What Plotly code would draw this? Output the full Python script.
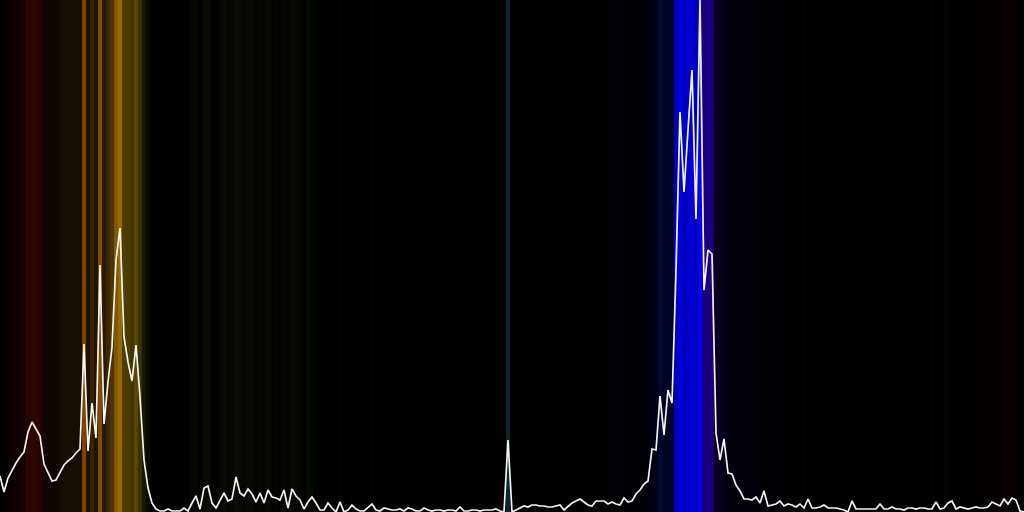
import plotly.graph_objects as go

line_values = [
    36,20,34,42,49,55,60,80,90,83,76,48,39,31,32,39,47,51,54,59,63,
    168,61,109,74,247,88,130,165,252,284,175,150,131,167,115,52,24,9,3,1,1,3,1,1,1,4,1,9,16,3,24,26,9,4,12,19,11,13,35,19,16,23,18,10,
    19,9,22,15,14,12,22,4,23,16,12,3,10,15,9,2,2,9,4,0,10,0,2,7,3,1,1,5,8,2,1,4,3,2,2,3,
    1,4,3,1,1,4,2,1,2,2,1,2,2,1,5,1,1,2,2,1,2,2,2,3,1,0,
    72,0,2,
    4,6,5,7,7,6,6,5,5,6,7,2,6,9,11,13,10,7,6,11,11,11,8,10,8,7,14,10,11,18,22,28,31,
    63,62,116,77,122,109,242,400,320,382,442,293,512,222,262,258,79,52,73,39,38,27,21,13,13,12,15,9,
    21,6,7,8,11,6,8,7,5,8,4,13,4,4,5,7,4,4,4,3,2,0,
    11,3,3,3,3,3,3,8,3,3,5,3,3,2,4,4,3,4,4,3,3,10,3,4,9,11,3,5,4,3,4,5,4,4,5,10,8,6,13,8,14,12,1,0,
]
bins = list(range(len(line_values)))

band_colors = [
    "#000000","#030000","#080000","#0b0100","#0e0100","#100200","#160300","#280500","#2e0500","#2a0500","#260500",
    "#120702","#0e0702","#0c0702","#0d0702","#110902","#180d02","#1a0e02","#1a0e02","#1a0e02","#1a0e02",
    "#7a4500","#1e1100","#3a2200","#221300","#7e4c00","#281900","#3c2700","#4d3500","#7e5800","#976a00",
    "#4f3d00","#4c3b00","#423500","#574700","#3a3100","#181603","#0c0b02","#010100","#000000",
    "#000000","#000000","#000000","#000000","#000000","#000000","#010100","#000000",
    "#070701","#070701","#020200","#0a0a01","#0a0a01","#030300","#020200","#060601","#090901","#060601","#060601",
    "#0d0d01","#080801","#070701","#080901","#070801","#030300","#060701","#020301","#080a01","#020401","#030501",
    "#020301","#060a01","#020301","#060a02","#050902","#020502","#010301","#050a03","#040802","#010201",
    "#000100","#000100","#010201","#000100","#000000","#010201","#000000","#000000","#010201","#000000",
    "#000000","#000000","#000100","#010201","#000000","#000000","#000000","#000000","#000000","#000000","#000000",
    "#000000","#000000","#000000","#000000","#000000","#000000","#000000","#000000","#000000","#000000",
    "#000000","#000000","#000000","#000000","#000101","#000000","#000000","#000000","#000000","#000000",
    "#000000","#000000","#000000","#000000","#000000","#000000",
    "#082a28","#000000","#000000",
    "#000001","#000001","#000001","#000102","#000102","#000001","#000001","#000001","#000001","#000001","#000102",
    "#000000","#000001","#000102","#000103","#000103","#000102","#000102","#000001","#000103","#000103","#000103",
    "#000102","#000102","#000102","#000102","#000204","#000102","#000102","#000005","#000007","#000009","#00000b",
    "#00000f","#000011","#000936","#000620","#000428","#000328",
    "#0000b8","#0000e0","#0000c0","#0000c8","#0000d8","#0000b8","#0000ff","#1a007c","#1a007c","#1a007c",
    "#07001e","#07001e","#05001a","#030010","#030010","#03000c","#03000a","#020008","#020008","#020008","#020006",
    "#030008","#010003","#010003","#010003","#020005","#010003","#010003","#010003","#010002","#010003","#010001",
    "#040106","#010001","#010001","#010001","#010002","#010001","#010001","#010001","#010001","#010001","#000000",
    "#020102","#010001","#010001","#010001","#010001","#010001","#010001","#020101","#010001","#010001","#010001",
    "#010001","#010001","#010001","#010001","#010001","#010001","#010001","#010001","#010001","#010001",
    "#030101","#010001","#010001","#030101","#030101","#010000","#010000","#010000","#010000","#010000","#020000",
    "#010000","#010000","#020000","#050000","#040000","#020000","#070000","#040000","#070000","#060000","#010000","#000000",
]
band_heights = [1] * len(bins)

fig = go.Figure()
fig.add_trace(go.Bar(
    x=bins, y=band_heights, width=1, yaxis="y",
    marker=dict(color=band_colors, line=dict(width=0)),
    hoverinfo="skip", showlegend=False,
))
fig.add_trace(go.Scatter(
    x=bins, y=line_values, mode="lines", yaxis="y2",
    line=dict(color="#f4f4f4", width=1.7),
    cliponaxis=False,
    showlegend=False,
))
fig.update_layout(
    width=1024, height=512,
    margin=dict(l=0, r=0, t=0, b=0, pad=0),
    paper_bgcolor="#000000", plot_bgcolor="#000000",
    bargap=0,
    xaxis=dict(range=[0, 256], visible=False, fixedrange=True),
    yaxis=dict(range=[0, 1], visible=False, fixedrange=True),
    yaxis2=dict(range=[0, 512], visible=False, overlaying="y", fixedrange=True),
)
print(len(bins), len(band_colors))
fig.write_html(
    "out.html",
    config={"displayModeBar": False},
    post_script="document.body.style.margin='0';document.body.style.background='#000';document.documentElement.style.overflow='hidden';",
)
